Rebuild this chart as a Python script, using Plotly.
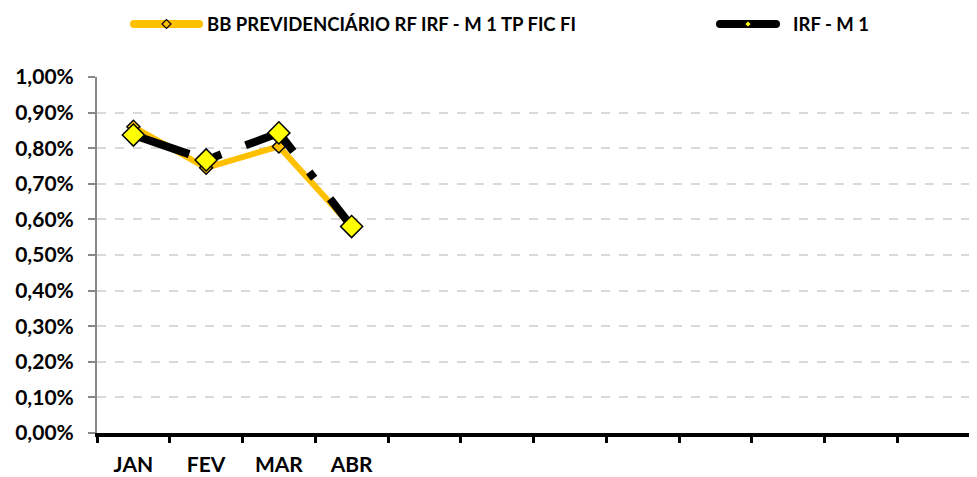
import plotly.graph_objects as go

months = ["JAN", "FEV", "MAR", "ABR", "MAI", "JUN", "JUL", "AGO", "SET", "OUT", "NOV", "DEZ"]
tick_labels = ["JAN", "FEV", "MAR", "ABR", "", "", "", "", "", "", "", ""]
bb_name = "BB PREVIDENCIÁRIO RF IRF - M 1 TP FIC FI"
bb_values = [0.0086, 0.00745, 0.00805, 0.0058]
irf_name = "IRF - M 1"
irf_values = [0.00837, 0.00767, 0.00843, 0.0058]
y_ticks = [i / 1000 for i in range(0, 11)]

FONT = "Lato"
OFF = 8  # page body margin
W, H = 977 - OFF, 477 - OFF
# plot area in window pixels: x 97..970, y 77..433
L, R, T, B = 97 - OFF, 977 - 970, 77 - OFF, 477 - 433
PW, PH = W - L - R, H - T - B


def px_x(x):  # window pixel -> paper
    return (x - OFF - L) / PW


def px_y(y):
    return 1 - (y - OFF - T) / PH


ORANGE = "#FFC000"
YELLOW = "#FFFF00"

fig = go.Figure()
fig.add_trace(go.Scatter(
    x=months[:len(bb_values)], y=bb_values, name=bb_name, mode="lines+markers",
    line=dict(color=ORANGE, width=6),
    marker=dict(symbol="diamond", size=10, color=ORANGE, line=dict(color="black", width=1.5)),
    showlegend=False,
))
fig.add_trace(go.Scatter(
    x=months[:len(irf_values)], y=irf_values, name=irf_name, mode="lines+markers",
    line=dict(color="black", width=8, dash="59px,26px,8px,26px"),
    marker=dict(symbol="diamond", size=17, color=YELLOW, line=dict(color="black", width=1.5)),
    showlegend=False,
))

# manual legend
shapes = []
annotations = []


def legend_entry(x0, x1, color, thick, mcolor, msize, text_x, text):
    yc = 24
    shapes.append(dict(type="line", xref="paper", yref="paper",
                       x0=px_x(x0), x1=px_x(x1), y0=px_y(yc), y1=px_y(yc),
                       line=dict(color=color, width=thick)))
    r = thick / 2
    for cx in (x0, x1):
        shapes.append(dict(type="circle", xref="paper", yref="paper",
                           x0=px_x(cx - r), x1=px_x(cx + r), y0=px_y(yc - r), y1=px_y(yc + r),
                           fillcolor=color, line=dict(width=0)))
    mx = (x0 + x1) / 2
    h = msize / 2
    path = "M {a},{b} L {c},{d} L {e},{f} L {g},{h} Z".format(
        a=px_x(mx - h), b=px_y(yc), c=px_x(mx), d=px_y(yc - h),
        e=px_x(mx + h), f=px_y(yc), g=px_x(mx), h=px_y(yc + h))
    shapes.append(dict(type="path", xref="paper", yref="paper", path=path,
                       fillcolor=mcolor, line=dict(color="black", width=1.2)))
    annotations.append(dict(xref="paper", yref="paper", x=px_x(text_x), y=px_y(yc),
                            xanchor="left", yanchor="middle", showarrow=False, text=text,
                            font=dict(family=FONT, size=18.5, color="black", weight="bold")))


legend_entry(134, 199, ORANGE, 8, ORANGE, 9, 205, bb_name)
legend_entry(720, 776, "black", 8, YELLOW, 7, 791, irf_name)

fig.update_layout(
    width=W, height=H,
    margin=dict(l=L, r=R, t=T, b=B, autoexpand=False),
    plot_bgcolor="white", paper_bgcolor="white",
    separators=",.",
    font=dict(family=FONT, size=16, color="black"),
    showlegend=False,
    shapes=shapes,
    annotations=annotations,
    xaxis=dict(
        type="category", categoryorder="array", categoryarray=months,
        range=[-0.5, 11.5], tickmode="array", tickvals=months, ticktext=tick_labels,
        tickson="boundaries", ticks="outside", ticklen=6, tickwidth=3, tickcolor="black",
        showline=True, linecolor="black", linewidth=4, showgrid=False,
        tickfont=dict(family=FONT, size=21, weight="bold"), ticklabelstandoff=10,
        automargin=False,
    ),
    yaxis=dict(
        range=[0, 0.01], tickmode="array", tickvals=y_ticks, tickformat=".2%",
        ticks="outside", ticklen=7, tickwidth=2, tickcolor="#888888",
        showline=True, linecolor="#888888", linewidth=2,
        showgrid=True, gridcolor="#D9D9D9", gridwidth=2, griddash="dash",
        zeroline=False,
        tickfont=dict(family=FONT, size=21, weight="bold"), ticklabelstandoff=10,
        automargin=False,
    ),
)

fig.write_html("out.html")
